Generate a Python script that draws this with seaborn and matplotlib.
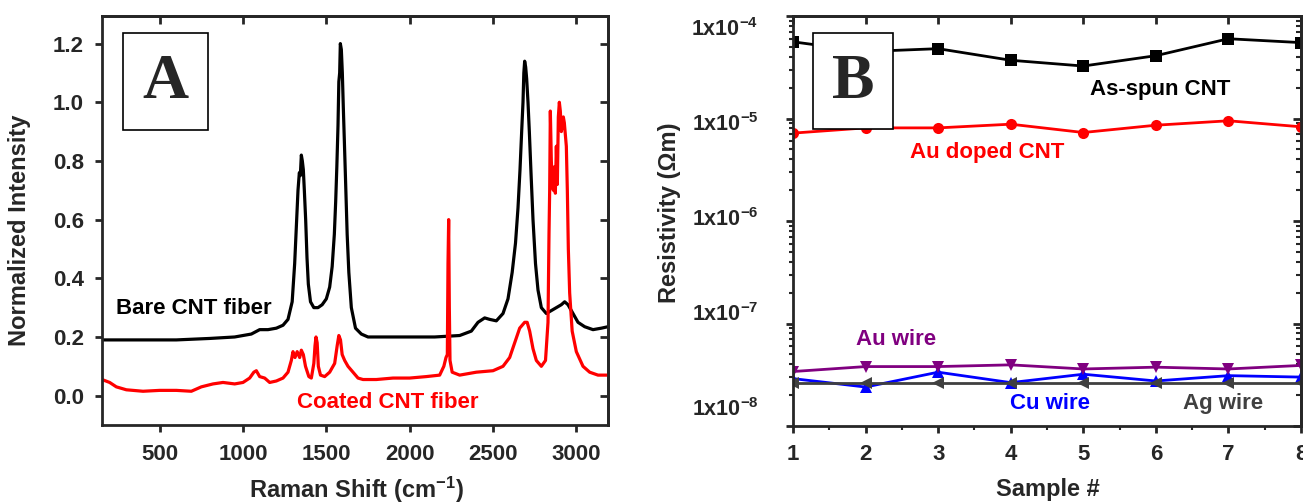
import numpy as np
import pandas as pd
import matplotlib
matplotlib.use("Agg")
import matplotlib.pyplot as plt
import matplotlib.transforms as mtransforms
import seaborn as sns
from matplotlib.patches import Rectangle
from matplotlib.ticker import LogLocator, NullFormatter, FixedLocator

# ---------------- data: panel A (Raman spectra) ----------------
bare_x = [154, 300, 450, 600, 800, 950, 1050, 1100, 1150, 1200, 1240, 1270, 1295, 1310,
          1322, 1330, 1338, 1344, 1350, 1356, 1362, 1368, 1376, 1384, 1392, 1405, 1425,
          1450, 1475, 1500, 1520, 1535, 1548, 1556, 1563, 1570, 1575, 1580, 1584, 1590,
          1596, 1602, 1608, 1615, 1625, 1635, 1650, 1675, 1710, 1750, 1850, 2000, 2150,
          2300, 2370, 2410, 2450, 2480, 2520, 2560, 2590, 2615, 2635, 2650, 2662, 2672,
          2680, 2685, 2690, 2696, 2702, 2710, 2718, 2728, 2740, 2755, 2770, 2790, 2820,
          2850, 2880, 2910, 2930, 2950, 2980, 3010, 3050, 3100, 3150, 3190]
bare_y = [0.19, 0.19, 0.19, 0.19, 0.195, 0.20, 0.21, 0.225, 0.225, 0.23, 0.24, 0.26, 0.32, 0.45,
          0.60, 0.70, 0.76, 0.75, 0.82, 0.80, 0.77, 0.70, 0.60, 0.47, 0.38, 0.32, 0.30,
          0.30, 0.31, 0.33, 0.37, 0.44, 0.55, 0.66, 0.78, 0.92, 1.07, 1.10, 1.20, 1.18,
          1.10, 0.98, 0.87, 0.74, 0.55, 0.42, 0.30, 0.23, 0.21, 0.20, 0.20, 0.20, 0.20,
          0.205, 0.22, 0.25, 0.265, 0.26, 0.255, 0.28, 0.33, 0.42, 0.52, 0.64, 0.77, 0.90,
          1.00, 1.10, 1.14, 1.12, 1.08, 1.00, 0.90, 0.76, 0.60, 0.45, 0.36, 0.30, 0.28,
          0.29, 0.30, 0.31, 0.32, 0.31, 0.28, 0.25, 0.235, 0.225, 0.23, 0.235]

coated_x = [154, 200, 240, 300, 400, 500, 600, 690, 750, 820, 880, 950, 1000, 1040, 1065,
            1080, 1100, 1130, 1160, 1200, 1240, 1270, 1290, 1300, 1312, 1325, 1340, 1350,
            1362, 1375, 1395, 1410, 1425, 1432, 1438, 1445, 1452, 1465, 1490, 1520, 1550,
            1565, 1575, 1585, 1595, 1610, 1630, 1660, 1690, 1720, 1800, 1900, 2000, 2100,
            2180, 2205, 2218, 2226, 2230, 2234, 2238, 2242, 2255, 2300, 2400, 2500, 2560,
            2600, 2630, 2660, 2690, 2705, 2720, 2740, 2760, 2790, 2815, 2830, 2836, 2840,
            2844, 2850, 2856, 2862, 2868, 2874, 2880, 2886, 2892, 2898, 2904, 2910, 2916,
            2922, 2928, 2934, 2940, 2946, 2952, 2960, 2975, 3000, 3040, 3080, 3130, 3190]
coated_y = [0.055, 0.045, 0.03, 0.02, 0.015, 0.018, 0.018, 0.015, 0.03, 0.04, 0.045, 0.04, 0.045,
            0.06, 0.08, 0.085, 0.065, 0.06, 0.045, 0.05, 0.06, 0.08, 0.12, 0.15, 0.13, 0.15,
            0.13, 0.155, 0.14, 0.10, 0.065, 0.06, 0.11, 0.17, 0.20, 0.18, 0.10, 0.07, 0.065,
            0.08, 0.11, 0.17, 0.205, 0.19, 0.14, 0.12, 0.10, 0.08, 0.06, 0.055, 0.055, 0.06,
            0.06, 0.065, 0.07, 0.10, 0.13, 0.14, 0.45, 0.60, 0.30, 0.12, 0.08, 0.07, 0.08,
            0.085, 0.10, 0.13, 0.18, 0.23, 0.25, 0.25, 0.22, 0.16, 0.12, 0.10, 0.12, 0.25,
            0.55, 0.70, 0.97, 0.80, 0.72, 0.70, 0.78, 0.69, 0.85, 0.72, 0.95, 1.00, 0.97,
            0.90, 0.92, 0.95, 0.93, 0.89, 0.85, 0.70, 0.50, 0.35, 0.22, 0.15, 0.10, 0.08,
            0.07, 0.07]

a_xticks = [500, 1000, 1500, 2000, 2500, 3000]
a_yticks = [0.0, 0.2, 0.4, 0.6, 0.8, 1.0, 1.2]

# ---------------- data: panel B (resistivity) ----------------
samples = [1, 2, 3, 4, 5, 6, 7, 8]
as_spun = [5.6e-5, 4.5e-5, 4.8e-5, 3.7e-5, 3.25e-5, 4.1e-5, 6.0e-5, 5.5e-5]
au_doped = [7.2e-6, 8.1e-6, 8.1e-6, 8.8e-6, 7.3e-6, 8.6e-6, 9.5e-6, 8.3e-6]
au_wire = [3.4e-8, 3.8e-8, 3.8e-8, 3.95e-8, 3.6e-8, 3.75e-8, 3.6e-8, 3.9e-8]
cu_wire = [2.9e-8, 2.4e-8, 3.35e-8, 2.65e-8, 3.2e-8, 2.75e-8, 3.1e-8, 3.0e-8]
ag_wire = [2.6e-8, 2.6e-8, 2.6e-8, 2.6e-8, 2.6e-8, 2.6e-8, 2.6e-8, 2.6e-8]
b_yticks = [1e-8, 1e-7, 1e-6, 1e-5, 1e-4]
b_yticklabels = ["1x10$^{-8}$", "1x10$^{-7}$", "1x10$^{-6}$", "1x10$^{-5}$", "1x10$^{-4}$"]

# ---------------- style ----------------
sns.set_style("ticks")
plt.rcParams["font.family"] = ["Liberation Sans", "DejaVu Sans"]
plt.rcParams["font.weight"] = "bold"
plt.rcParams["axes.labelweight"] = "bold"
plt.rcParams["mathtext.fontset"] = "custom"
plt.rcParams["mathtext.rm"] = "Liberation Sans:bold"
plt.rcParams["mathtext.it"] = "Liberation Sans:bold"
plt.rcParams["mathtext.bf"] = "Liberation Sans:bold"
plt.rcParams["mathtext.sf"] = "Liberation Sans:bold"
plt.rcParams["mathtext.default"] = "rm"

W, H = 1303, 504
fig = plt.figure(figsize=(W / 100, H / 100), dpi=100)

def frac_box(l, t, r, b):
    return [l / W, 1 - b / H, (r - l) / W, (b - t) / H]

axA = fig.add_axes(frac_box(102, 16, 608, 425))
axB = fig.add_axes(frac_box(793, 16, 1301, 426))

SPW = 2.0
TICKFS = 16
LABFS = 17
TXTFS = 16

# ---------------- panel A ----------------
dfb = pd.DataFrame({"x": bare_x, "y": bare_y})
dfc = pd.DataFrame({"x": coated_x, "y": coated_y})
sns.lineplot(data=dfb, x="x", y="y", ax=axA, color="black", lw=2.3, sort=False, estimator=None)
sns.lineplot(data=dfc, x="x", y="y", ax=axA, color="#ff0000", lw=2.3, sort=False, estimator=None)
axA.set_xlim(154, 3190)
axA.set_ylim(-0.1, 1.294)
axA.set_xticks(a_xticks)
axA.set_yticks(a_yticks)
axA.set_yticklabels([f"{v:.1f}" for v in a_yticks])
axA.tick_params(direction="out", length=5, width=SPW, labelsize=TICKFS, pad=9)
axA.tick_params(axis="y", pad=8)
for s in axA.spines.values():
    s.set_linewidth(SPW)
topA = axA.secondary_xaxis("top")
topA.set_xticks(a_xticks)
topA.tick_params(direction="in", length=6, width=SPW, labeltop=False)
rightA = axA.secondary_yaxis("right")
rightA.set_yticks(a_yticks)
rightA.tick_params(direction="in", length=6, width=SPW, labelright=False)
for sec in (topA, rightA):
    for s in sec.spines.values():
        s.set_linewidth(SPW)

axA.set_xlabel("Raman Shift (cm$^{-1}$)", fontsize=LABFS, fontweight="bold", va="center")
axA.xaxis.set_label_coords(0.502, -0.159)
axA.set_ylabel("Normalized Intensity", fontsize=LABFS, fontweight="bold", va="center")
axA.yaxis.set_label_coords(-0.164, 0.477)

axA.text(0.182, 0.286, "Bare CNT fiber", transform=axA.transAxes, fontsize=TXTFS,
         fontweight="bold", color="black", ha="center", va="center")
axA.text(0.564, 0.054, "Coated CNT fiber", transform=axA.transAxes, fontsize=TXTFS,
         fontweight="bold", color="#ff0000", ha="center", va="center")
axA.add_patch(Rectangle((0.0415, 0.721), 0.168, 0.237, transform=axA.transAxes,
                        facecolor="white", edgecolor="black", lw=1.2, zorder=5))
axA.text(0.1255, 0.835, "A", transform=axA.transAxes, fontsize=46, fontweight="bold",
         family="Liberation Serif", ha="center", va="center", zorder=6)

# ---------------- panel B ----------------
axB.set_yscale("log")
series = [
    (as_spun, "black", "s"),
    (au_doped, "#ff0000", "o"),
    (cu_wire, "#0000ff", "^"),
    (au_wire, "#800080", "v"),
    (ag_wire, "#404040", "<"),
]
for vals, col, mk in series:
    d = pd.DataFrame({"s": samples, "v": vals})
    sns.lineplot(data=d, x="s", y="v", ax=axB, color=col, lw=2.0, marker=mk,
                 markersize=8, markeredgewidth=0, sort=False, estimator=None)
axB.set_xlim(1, 8)
axB.set_ylim(1e-8, 1e-4)
axB.set_xticks(samples)
axB.xaxis.set_minor_locator(FixedLocator([1.5, 2.5, 3.5, 4.5, 5.5, 6.5, 7.5]))
axB.set_yticks(b_yticks)
axB.set_yticklabels(b_yticklabels)
axB.yaxis.set_minor_locator(LogLocator(base=10, subs=range(2, 10), numticks=20))
axB.yaxis.set_minor_formatter(NullFormatter())
axB.tick_params(direction="out", length=5, width=SPW, labelsize=TICKFS)
axB.tick_params(which="minor", direction="out", length=3, width=1.5)
axB.tick_params(axis="y", which="major", pad=20, labelsize=15.5)
axB.tick_params(axis="x", which="major", pad=8)
for s in axB.spines.values():
    s.set_linewidth(SPW)
topB = axB.secondary_xaxis("top")
topB.set_xticks(samples)
topB.tick_params(direction="in", length=6, width=SPW, labeltop=False)
rightB = axB.secondary_yaxis("right")
rightB.set_yticks(b_yticks)
rightB.yaxis.set_minor_locator(LogLocator(base=10, subs=range(2, 10), numticks=20))
rightB.yaxis.set_minor_formatter(NullFormatter())
rightB.tick_params(direction="in", length=6, width=SPW, labelright=False)
rightB.tick_params(which="minor", direction="in", length=3.5, width=1.5)
for sec in (topB, rightB):
    for s in sec.spines.values():
        s.set_linewidth(SPW)

# the original's y labels sit slightly off their ticks (evenly spread); reproduce that offset
label_shift_px = [-19, -11.5, -4, 3.5, 11]
for lab, dpx in zip(axB.get_yticklabels(), label_shift_px):
    lab.set_transform(lab.get_transform() +
                      mtransforms.ScaledTranslation(0, -dpx / 100, fig.dpi_scale_trans))

axB.set_xlabel("Sample #", fontsize=LABFS, fontweight="bold", va="center")
axB.xaxis.set_label_coords(0.502, -0.156)
axB.set_ylabel("Resistivity (\u03a9m)", fontsize=LABFS, fontweight="bold", va="center")
axB.yaxis.set_label_coords(-0.244, 0.520)

axB.text(0.722, 0.820, "As-spun CNT", transform=axB.transAxes, fontsize=TXTFS,
         fontweight="bold", color="black", ha="center", va="center")
axB.text(0.383, 0.666, "Au doped CNT", transform=axB.transAxes, fontsize=TXTFS,
         fontweight="bold", color="#ff0000", ha="center", va="center")
axB.text(0.203, 0.212, "Au wire", transform=axB.transAxes, fontsize=TXTFS,
         fontweight="bold", color="#800080", ha="center", va="center")
axB.text(0.506, 0.054, "Cu wire", transform=axB.transAxes, fontsize=TXTFS,
         fontweight="bold", color="#0000ff", ha="center", va="center")
axB.text(0.846, 0.054, "Ag wire", transform=axB.transAxes, fontsize=TXTFS,
         fontweight="bold", color="#404040", ha="center", va="center")
axB.add_patch(Rectangle((0.039, 0.724), 0.157, 0.2345, transform=axB.transAxes,
                        facecolor="white", edgecolor="black", lw=1.2, zorder=5))
axB.text(0.118, 0.836, "B", transform=axB.transAxes, fontsize=46, fontweight="bold",
         family="Liberation Serif", ha="center", va="center", zorder=6)

fig.savefig("out.png", dpi=100)
